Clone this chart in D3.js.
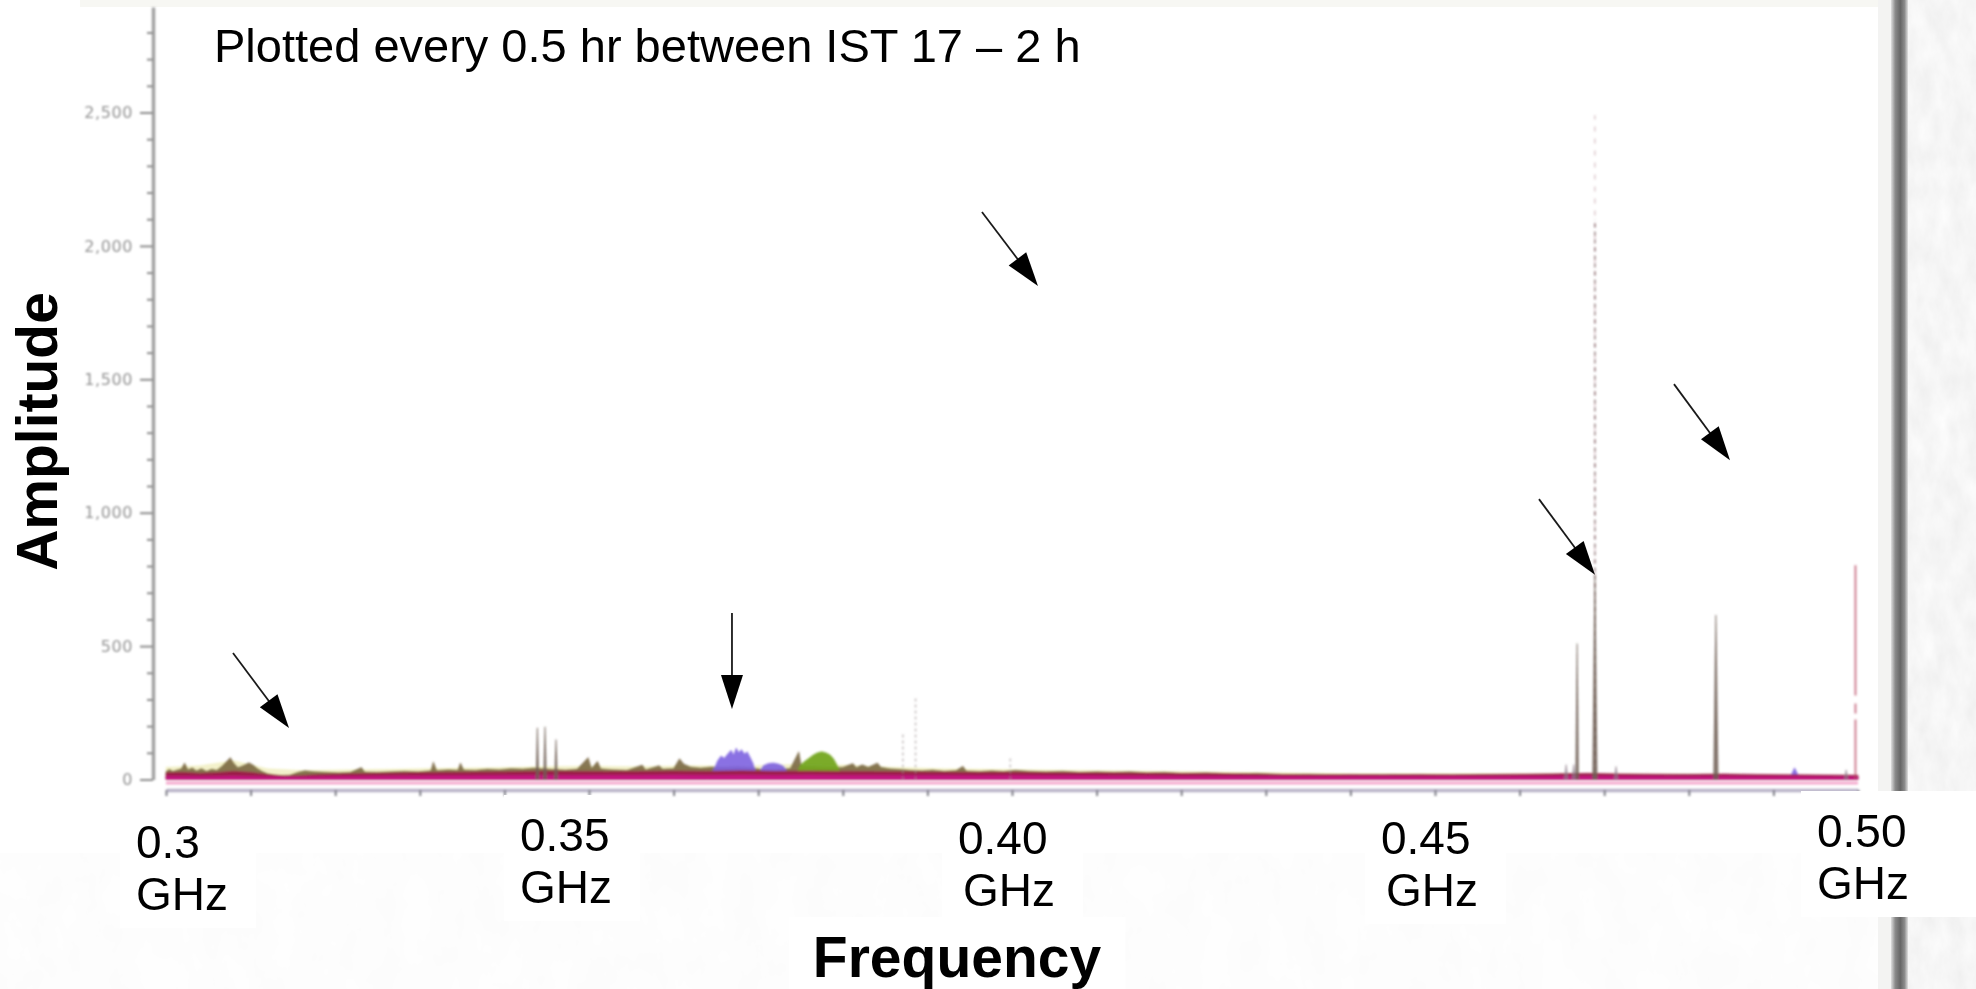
<!DOCTYPE html>
<html>
<head>
<meta charset="utf-8">
<script src="https://cdn.jsdelivr.net/npm/d3@7"></script>
<style>
  html, body { margin: 0; padding: 0; background: #ffffff; overflow: hidden; }
  svg { display: block; }
</style>
</head>
<body>
<svg id="chart" width="1976" height="989"></svg>
<script>
// ---------------------------------------------------------------
// Spectrum overlay: amplitude vs frequency, 0.3 – 0.5 GHz
// ---------------------------------------------------------------

// Axis tick labels
const xTickFreqs  = [0.30, 0.35, 0.40, 0.45, 0.50];
const xTickLabels = ["0.3", "0.35", "0.40", "0.45", "0.50"];
const xTickUnit   = "GHz";
const yTickValues = [0, 500, 1000, 1500, 2000, 2500];

// Background haze above the noise floor (frequency GHz, amplitude)
const seriesHaze = [
  [0.300,46],[0.304,52],[0.308,70],[0.312,40],[0.316,34],[0.320,36],[0.326,38],[0.332,42],
  [0.338,44],[0.344,48],[0.350,50],[0.356,48],[0.362,52],[0.368,50],[0.374,56],[0.380,54],
  [0.386,46],[0.392,40],[0.398,38],[0.404,36],[0.410,34],[0.420,30],[0.430,26],[0.440,22],
  [0.450,22],[0.460,22],[0.470,22],[0.480,20],[0.490,18],[0.500,16]
];

// Upper noise envelope
const seriesOlive = [
  [0.3000,30],[0.3004,38],[0.3008,31],[0.3013,36],[0.3018,40],[0.3022,62],[0.3026,37],[0.3031,44],
  [0.3036,33],[0.3042,41],[0.3048,31],[0.3054,39],[0.3060,35],[0.3066,50],[0.3071,66],[0.3076,82],
  [0.3080,62],[0.3085,45],[0.3090,51],[0.3095,58],[0.3098,63],[0.3103,54],[0.3108,41],[0.3114,30],
  [0.3120,22],[0.3128,17],[0.3136,15],[0.3146,16],[0.3156,27],[0.3164,33],[0.3176,29],[0.3190,27],
  [0.3204,25],[0.3218,27],[0.3231,45],[0.3235,28],[0.3250,27],[0.3266,29],[0.3282,31],[0.3298,29],
  [0.3313,33],[0.3316,66],[0.3320,34],[0.3334,37],[0.3345,35],[0.3348,62],[0.3352,36],[0.3366,35],
  [0.3380,39],[0.3394,37],[0.3408,41],[0.3422,39],[0.3434,43],[0.3446,40],[0.3458,38],[0.3472,36],
  [0.3486,39],[0.3499,82],[0.3503,41],[0.3510,68],[0.3514,40],[0.3528,37],[0.3545,35],[0.3563,54],
  [0.3567,37],[0.3583,52],[0.3587,39],[0.3600,41],[0.3607,78],[0.3612,58],[0.3620,47],[0.3632,43],
  [0.3644,47],[0.3660,45],[0.3676,47],[0.3692,44],[0.3704,38],[0.3720,37],[0.3738,42],[0.3748,104],
  [0.3751,50],[0.3768,48],[0.3786,45],[0.3800,46],[0.3812,60],[0.3816,45],[0.3823,55],[0.3830,46],
  [0.3841,62],[0.3845,46],[0.3856,40],[0.3868,38],[0.3880,35],[0.3894,33],[0.3906,36],[0.3920,31],
  [0.3934,34],[0.3942,50],[0.3946,32],[0.3962,30],[0.3976,33],[0.3990,30],[0.4004,35],[0.4020,31],
  [0.4040,29],[0.4060,31],[0.4080,27],[0.4100,29],[0.4120,27],[0.4140,29],[0.4160,25],[0.4180,27],
  [0.4200,23],[0.4230,25],[0.4260,21],[0.4290,23],[0.4320,19],[0.4350,20],[0.4400,17],[0.4450,19],
  [0.4500,17],[0.4550,19],[0.4600,18],[0.4650,21],[0.4700,19],[0.4750,17],[0.4800,19],[0.4850,17],
  [0.4900,15],[0.4950,15],[0.5000,13]
];

// Green hump near 0.377 GHz
const seriesGreen = [
  [0.3730,10],[0.3745,20],[0.3750,55],[0.3755,68],[0.3760,80],[0.3765,92],[0.3770,100],[0.3775,104],
  [0.3780,100],[0.3785,92],[0.3789,78],[0.3793,55],[0.3797,30],[0.3802,18],[0.3810,10]
];

// Purple humps near 0.367 GHz and 0.372 GHz, small blip near 0.4925 GHz
const seriesPurple = [
  [0.3600,8],[0.3640,10],[0.3648,40],[0.3652,70],[0.3656,88],[0.3660,80],[0.3664,96],[0.3668,110],
  [0.3671,92],[0.3674,118],[0.3677,100],[0.3680,112],[0.3684,96],[0.3687,104],[0.3690,86],[0.3694,60],
  [0.3698,20],[0.3702,30],[0.3706,52],[0.3712,60],[0.3718,62],[0.3724,58],[0.3730,50],[0.3735,24],
  [0.3740,10],[0.3800,8],[0.4900,6],[0.4920,10],[0.4925,44],[0.4930,12],[0.4950,6]
];

// Main noise floor
const seriesCrimson = [
  [0.300,25],[0.302,27],[0.304,23],[0.306,26],[0.308,31],[0.310,27],[0.312,19],[0.314,13],
  [0.316,15],[0.318,19],[0.320,21],[0.324,23],[0.328,25],[0.332,27],[0.336,28],[0.340,29],
  [0.344,31],[0.348,31],[0.352,30],[0.356,31],[0.360,32],[0.364,31],[0.368,33],[0.372,31],
  [0.376,32],[0.380,31],[0.384,30],[0.388,29],[0.392,28],[0.396,27],[0.400,28],[0.404,26],
  [0.408,25],[0.412,25],[0.416,24],[0.420,23],[0.424,23],[0.428,21],[0.432,19],[0.436,18],
  [0.440,19],[0.444,18],[0.448,19],[0.452,18],[0.456,19],[0.460,20],[0.464,21],[0.468,23],
  [0.472,21],[0.476,20],[0.480,19],[0.484,21],[0.488,19],[0.492,18],[0.496,17],[0.500,16]
];

// Lowest trace
const seriesMagenta = [
  [0.300,12],[0.304,11],[0.308,13],[0.312,10],[0.316,9],[0.320,11],[0.324,12],[0.328,13],
  [0.332,14],[0.336,14],[0.340,15],[0.344,16],[0.348,15],[0.352,16],[0.356,16],[0.360,17],
  [0.364,16],[0.368,17],[0.372,16],[0.376,17],[0.380,16],[0.384,16],[0.388,15],[0.392,15],
  [0.396,14],[0.400,15],[0.404,14],[0.408,14],[0.412,13],[0.416,13],[0.420,12],[0.424,12],
  [0.428,12],[0.432,11],[0.436,11],[0.440,11],[0.444,12],[0.448,11],[0.452,12],[0.456,11],
  [0.460,12],[0.464,12],[0.468,13],[0.472,12],[0.476,12],[0.480,11],[0.484,12],[0.488,11],
  [0.492,11],[0.496,10],[0.500,10]
];

// Narrow carriers (frequency GHz, peak amplitude)
const spikesBrown  = [[0.3439,194],[0.3448,198],[0.3461,150],[0.4668,510],[0.4689,768],[0.4832,617]];
const spikesSmall  = [[0.4655,56],[0.4664,56],[0.4714,50],[0.4986,37]];
const spikesDotted = [[0.3871,176],[0.3886,306],[0.3998,85]];
const spikesDashed = [[0.4689,2100]];
const spikesFaint  = [[0.4689,2490]];
const spikesPink   = [[0.4997,803]];

// Annotation arrows: [tail freq, tail amp, tip freq, tip amp]
const arrows = [
  [0.30792, 474, 0.31454, 193],
  [0.36690, 624, 0.36690, 264],
  [0.39645, 2127, 0.40307, 1850],
  [0.46229, 1051, 0.46891, 767],
  [0.47825, 1482, 0.48487, 1197]
];

// ---------------------------------------------------------------
// Layout
// ---------------------------------------------------------------
const W = 1976, H = 989;
const x = d3.scaleLinear().domain([0.3, 0.5]).range([166, 1858]);
const y = d3.scaleLinear().domain([0, 2500]).range([779.5, 112.5]);
const yTop = 2895;           // axis line runs a little past the last label
const xAxisY = 790;
const yAxisX = 153;

// per-label text-box placement (left offset from tick, baseline of first line)
const labelShift = [-30, -69, -54, -54, -41];
const labelBase  = [858, 851, 854, 854, 847];
const labelGap   = 52;

const svg = d3.select("#chart");
const defs = svg.append("defs");

// paper grain for the slide background
function grainFilter(id, lo, span, fx, fy, seed) {
  const f = defs.append("filter").attr("id", id)
    .attr("x", 0).attr("y", 0).attr("width", 1).attr("height", 1);
  f.append("feTurbulence").attr("type", "fractalNoise")
    .attr("baseFrequency", `${fx} ${fy}`).attr("numOctaves", 4).attr("seed", seed);
  f.append("feColorMatrix").attr("type", "matrix")
    .attr("values", `${span} 0 0 0 ${lo}  ${span} 0 0 0 ${lo}  ${span} 0 0 0 ${lo}  0 0 0 0 1`);
}
grainFilter("grainSide", 0.85, 0.14, 0.06, 0.03, 7);
grainFilter("grainFloor", 0.965, 0.035, 0.03, 0.02, 3);

defs.append("filter").attr("id", "soft")
  .attr("x", "-2%").attr("y", "-2%").attr("width", "104%").attr("height", "104%")
  .append("feGaussianBlur").attr("stdDeviation", 0.9);

const barGrad = defs.append("linearGradient").attr("id", "bar").attr("x1", 0).attr("x2", 1);
[[0, "#dedede"], [0.25, "#8a8a8a"], [0.55, "#666666"], [0.8, "#8c8c8c"], [1, "#e0e0e0"]]
  .forEach(([o, c]) => barGrad.append("stop").attr("offset", o).attr("stop-color", c));

// ---- background ------------------------------------------------
svg.append("rect").attr("width", W).attr("height", H).attr("filter", "url(#grainFloor)");
svg.append("rect").attr("x", 1900).attr("width", W - 1900).attr("height", H)
  .attr("filter", "url(#grainSide)");
svg.append("rect").attr("x", 0).attr("y", 0).attr("width", 1878).attr("height", 853)
  .attr("fill", "#ffffff");
svg.append("rect").attr("x", 80).attr("y", 0).attr("width", 1798).attr("height", 7)
  .attr("fill", "#f7f7f3");
svg.append("rect").attr("x", 1878).attr("y", 0).attr("width", 14).attr("height", H)
  .attr("fill", "#f3f3f2");
svg.append("rect").attr("x", 1891).attr("y", 0).attr("width", 17).attr("height", H)
  .attr("fill", "url(#bar)");

// ---- plot (slightly soft) ----------------------------------------
const plot = svg.append("g").attr("filter", "url(#soft)");

const yAxisScale = y.copy().domain([0, yTop]).range([y(0), y(yTop)]);
const yMinor = d3.range(0, 2801, 100).filter(v => v % 500 !== 0);

plot.append("g").attr("transform", `translate(${yAxisX},0)`)
  .call(d3.axisLeft(yAxisScale).tickValues(yMinor).tickSize(6).tickFormat("").tickSizeOuter(0))
  .call(g => g.select(".domain").attr("stroke", "#a2a2a2").attr("stroke-width", 3.5))
  .call(g => g.selectAll(".tick line").attr("stroke", "#8c8c8c").attr("stroke-width", 2));

plot.append("g").attr("transform", `translate(${yAxisX},0)`)
  .call(d3.axisLeft(yAxisScale).tickValues(yTickValues).tickSize(13).tickPadding(7)
    .tickFormat(d3.format(",")).tickSizeOuter(0))
  .call(g => g.select(".domain").remove())
  .call(g => g.selectAll(".tick line").attr("stroke", "#8c8c8c").attr("stroke-width", 2))
  .call(g => g.selectAll(".tick text")
    .attr("fill", "#929292").attr("font-family", "DejaVu Sans, sans-serif")
    .attr("font-size", 16).attr("letter-spacing", 0.6));

const xTicks = d3.range(0, 21).map(i => +(0.3 + i * 0.01).toFixed(2));
plot.append("g").attr("transform", `translate(0,${xAxisY})`)
  .call(d3.axisBottom(x).tickValues(xTicks).tickSize(6).tickFormat("").tickSizeOuter(0))
  .call(g => g.select(".domain").attr("stroke", "#b9b4c8").attr("stroke-width", 3.5))
  .call(g => g.selectAll(".tick line").attr("stroke", "#7e7e86").attr("stroke-width", 2));

// light floor line just under the traces
plot.append("line")
  .attr("x1", x(0.3)).attr("x2", x(0.5))
  .attr("y1", y(0) + 3.5).attr("y2", y(0) + 3.5)
  .attr("stroke", "#f4a9cd").attr("stroke-width", 3);

const area = d3.area()
  .x(d => x(d[0]))
  .y0(y(0))
  .y1(d => y(d[1]));

const layers = [
  { data: seriesHaze,    fill: "#dcd86a", opacity: 0.35 },
  { data: seriesOlive,   fill: "#7a6842", opacity: 0.9 },
  { data: seriesGreen,   fill: "#74a620", opacity: 0.95 },
  { data: seriesPurple,  fill: "#7d62e0", opacity: 0.9 },
  { data: seriesCrimson, fill: "#9c1c48", opacity: 1 },
  { data: seriesMagenta, fill: "#c2187f", opacity: 1 }
];

layers.forEach(l => {
  plot.append("path").datum(l.data)
    .attr("d", area)
    .attr("fill", l.fill).attr("fill-opacity", l.opacity)
    .attr("stroke", l.fill).attr("stroke-opacity", l.opacity * 0.7).attr("stroke-width", 0.8);
});

// narrow carriers drawn as thin wedges
function wedge(d, half) {
  const cx = x(d[0]);
  return `M${cx - half},${y(0)}L${cx - 0.5},${y(d[1])}L${cx + 0.5},${y(d[1])}L${cx + half},${y(0)}Z`;
}

plot.selectAll(".spike-faint").data(spikesFaint).enter().append("line")
  .attr("x1", d => x(d[0])).attr("x2", d => x(d[0]))
  .attr("y1", y(0)).attr("y2", d => y(d[1]))
  .attr("stroke", "#b89098").attr("stroke-width", 1.6)
  .attr("stroke-dasharray", "5,7").attr("stroke-opacity", 0.45);

plot.selectAll(".spike-dashed").data(spikesDashed).enter().append("line")
  .attr("x1", d => x(d[0])).attr("x2", d => x(d[0]))
  .attr("y1", y(0)).attr("y2", d => y(d[1]))
  .attr("stroke", "#8a6e70").attr("stroke-width", 1.8)
  .attr("stroke-dasharray", "4,4").attr("stroke-opacity", 0.7);

plot.selectAll(".spike-dotted").data(spikesDotted).enter().append("line")
  .attr("x1", d => x(d[0])).attr("x2", d => x(d[0]))
  .attr("y1", y(0)).attr("y2", d => y(d[1]))
  .attr("stroke", "#9a9090").attr("stroke-width", 1.6)
  .attr("stroke-dasharray", "3,3").attr("stroke-opacity", 0.55);

plot.selectAll(".spike-pink").data(spikesPink).enter().append("line")
  .attr("x1", d => x(d[0])).attr("x2", d => x(d[0]))
  .attr("y1", y(0)).attr("y2", d => y(d[1]))
  .attr("stroke", "#b84862").attr("stroke-width", 1.8)
  .attr("stroke-dasharray", "60,6,10,8,200,0").attr("stroke-opacity", 0.75);

plot.selectAll(".spike-brown").data(spikesBrown).enter().append("path")
  .attr("d", d => wedge(d, d[1] > 600 ? 2.6 : 1.8))
  .attr("fill", "#6e5e54").attr("fill-opacity", 0.85);

plot.selectAll(".spike-small").data(spikesSmall).enter().append("path")
  .attr("d", d => wedge(d, 2.2))
  .attr("fill", "#8a7a88").attr("fill-opacity", 0.7);

// ---- frequency labels in text boxes -------------------------------
const font = "Liberation Sans, Arial, Helvetica, sans-serif";
const labels = svg.append("g");
xTickFreqs.forEach((f, i) => {
  const g = labels.append("g");
  const left = x(f) + labelShift[i];
  const box = g.append("rect").attr("fill", "#ffffff");
  g.append("text").attr("x", left).attr("y", labelBase[i])
    .attr("font-family", font).attr("font-size", 46).attr("fill", "#000")
    .text(xTickLabels[i]);
  g.append("text").attr("x", left + (i >= 2 && i <= 3 ? 5 : 0)).attr("y", labelBase[i] + labelGap)
    .attr("font-family", font).attr("font-size", 46).attr("fill", "#000")
    .text(xTickUnit);
  const bb = g.node().getBBox();
  const last = i === xTickFreqs.length - 1;
  box.attr("x", bb.x - 16).attr("y", bb.y - 14)
    .attr("width", last ? W - (bb.x - 16) : bb.width + 44)
    .attr("height", bb.height + 22);
});

// axis titles
const fq = svg.append("g");
const fqBox = fq.append("rect").attr("fill", "#ffffff");
fq.append("text").attr("x", 957).attr("y", 977).attr("text-anchor", "middle")
  .attr("font-family", font).attr("font-weight", "bold").attr("font-size", 57)
  .attr("fill", "#000").text("Frequency");
const fb = fq.node().getBBox();
fqBox.attr("x", fb.x - 24).attr("y", fb.y - 8).attr("width", fb.width + 48).attr("height", fb.height + 20);

svg.append("text")
  .attr("transform", "translate(57,431.5) rotate(-90)")
  .attr("text-anchor", "middle")
  .attr("font-family", font).attr("font-weight", "bold").attr("font-size", 57)
  .attr("fill", "#000").text("Amplitude");

svg.append("text").attr("x", 214).attr("y", 62)
  .attr("font-family", font).attr("font-size", 47).attr("fill", "#000")
  .text("Plotted every 0.5 hr between IST 17 \u2013 2 h");

// ---- annotation arrows -------------------------------------------
const headLen = 34, headHalf = 11;
const arrowG = svg.append("g");
arrows.forEach(a => {
  const x0 = x(a[0]), y0 = y(a[1]), x1 = x(a[2]), y1 = y(a[3]);
  const dx = x1 - x0, dy = y1 - y0, len = Math.hypot(dx, dy);
  const ux = dx / len, uy = dy / len;
  const bx = x1 - ux * headLen, by = y1 - uy * headLen;
  arrowG.append("line")
    .attr("x1", x0).attr("y1", y0).attr("x2", bx + ux * 4).attr("y2", by + uy * 4)
    .attr("stroke", "#1a1a1a").attr("stroke-width", 1.8);
  arrowG.append("path")
    .attr("d", `M${x1},${y1}L${bx - uy * headHalf},${by + ux * headHalf}L${bx + uy * headHalf},${by - ux * headHalf}Z`)
    .attr("fill", "#000");
});
</script>
</body>
</html>
